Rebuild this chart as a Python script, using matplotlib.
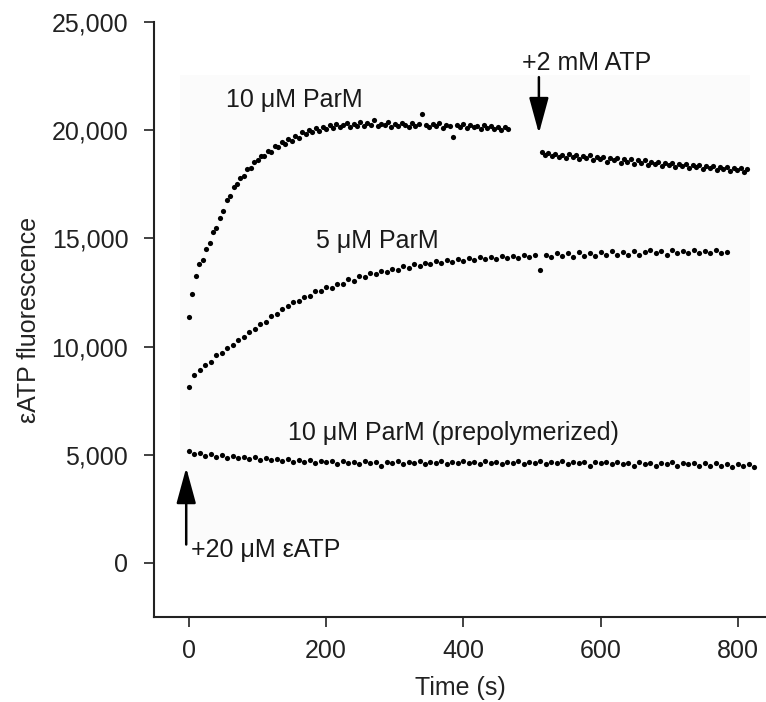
import numpy as np
import matplotlib
matplotlib.use("Agg")
import matplotlib.pyplot as plt
from matplotlib.patches import Rectangle

plt.rcParams["font.family"] = ["Liberation Sans", "DejaVu Sans"]

# ---- data (time in s, fluorescence in a.u.) ----
# 10 uM ParM, sampled every 5 s from t = 0
parm10_vals = [
    11350, 12450, 13250, 13800, 14000, 14500, 14800, 15300, 15500, 15950,
    16250, 16750, 16950, 17350, 17500, 17800, 17900, 18200, 18250, 18550,
    18600, 18800, 18800, 19050, 19000, 19250, 19200, 19450, 19350, 19600,
    19500, 19750, 19650, 19900, 19800, 20000, 19900, 20100, 19950, 20150,
    20050, 20250, 20100, 20300, 20150, 20250, 20350, 20150, 20300, 20200,
    20400, 20200, 20350, 20250, 20450, 20200, 20300, 20250, 20400, 20150,
    20300, 20200, 20350, 20250, 20150, 20350, 20200, 20300, 20750, 20250,
    20150, 20300, 20200, 20350, 20100, 20250, 20200, 19700, 20250, 20150,
    20300, 20100, 20250, 20150, 20200, 20050, 20250, 20100, 20200, 20050,
    20150, 20000, 20150, 20050,
]
parm10_t0, parm10_dt = 0, 5

# 10 uM ParM after +2 mM ATP, every 5 s from t = 514
atp_vals = [
    19000, 18850, 18950, 18800, 18900, 18750, 18850, 18700, 18900, 18750,
    18850, 18650, 18800, 18700, 18850, 18600, 18750, 18650, 18750, 18550,
    18700, 18600, 18700, 18500, 18650, 18550, 18650, 18450, 18600, 18500,
    18600, 18400, 18550, 18450, 18550, 18350, 18500, 18400, 18500, 18300,
    18450, 18350, 18450, 18250, 18400, 18300, 18400, 18200, 18350, 18250,
    18350, 18150, 18300, 18200, 18300, 18100, 18250, 18150, 18250, 18050,
    18200,
]
atp_t0, atp_dt = 514, 5

# 5 uM ParM, every 8 s from t = 0
parm5_vals = [
    8150, 8700, 8900, 9150, 9300, 9600, 9700, 9950, 10050, 10300,
    10450, 10650, 10800, 11050, 11150, 11400, 11500, 11750, 11850, 12050,
    12100, 12300, 12350, 12550, 12550, 12750, 12700, 12900, 12900, 13100,
    13050, 13250, 13200, 13400, 13350, 13500, 13450, 13600, 13550, 13700,
    13650, 13800, 13700, 13850, 13800, 13950, 13850, 14000, 13900, 14050,
    13950, 14100, 14000, 14150, 14050, 14150, 14050, 14200, 14100, 14200,
    14100, 14250, 14150, 14250, 13550, 14250, 14150, 14300, 14200, 14300,
    14150, 14350, 14200, 14300, 14200, 14350, 14250, 14400, 14250, 14350,
    14250, 14400, 14250, 14350, 14450, 14300, 14400, 14250, 14450, 14300,
    14400, 14300, 14450, 14300, 14400, 14300, 14450, 14300, 14350,
]
parm5_t0, parm5_dt = 0, 8

# 10 uM ParM (prepolymerized), every 8 s from t = 0
prepol_vals = [
    5150, 5050, 5100, 4950, 5050, 4900, 5000, 4850, 4950, 4850,
    4900, 4800, 4900, 4750, 4850, 4750, 4800, 4700, 4800, 4650,
    4750, 4650, 4750, 4600, 4700, 4650, 4700, 4550, 4700, 4600,
    4650, 4550, 4700, 4600, 4650, 4500, 4650, 4600, 4700, 4550,
    4650, 4600, 4700, 4550, 4650, 4600, 4700, 4550, 4650, 4600,
    4700, 4600, 4650, 4550, 4700, 4600, 4650, 4550, 4650, 4600,
    4700, 4550, 4650, 4600, 4700, 4550, 4650, 4600, 4700, 4550,
    4650, 4600, 4650, 4500, 4650, 4600, 4650, 4550, 4650, 4550,
    4600, 4500, 4650, 4550, 4600, 4500, 4600, 4550, 4650, 4500,
    4600, 4550, 4600, 4500, 4600, 4500, 4600, 4500, 4550, 4450,
    4550, 4500, 4550, 4450,
]
prepol_t0, prepol_dt = 0, 8

series = [
    (parm10_t0, parm10_dt, parm10_vals),
    (atp_t0, atp_dt, atp_vals),
    (parm5_t0, parm5_dt, parm5_vals),
    (prepol_t0, prepol_dt, prepol_vals),
]

x_ticks = [0, 200, 400, 600, 800]
y_ticks = [0, 5000, 10000, 15000, 20000, 25000]

# ---- figure ----
fig = plt.figure(figsize=(7.66, 7.02), dpi=100)
ax = fig.add_axes([0.201, 0.1211, 0.799, 0.8476])

# faint grey panel behind the traces (scan artefact in the original)
ax.add_patch(Rectangle((-13, 1050), 831, 21500, facecolor="#fbfbfb",
                       edgecolor="none", zorder=0))

for t0, dt, vals in series:
    t = t0 + dt * np.arange(len(vals))
    ax.scatter(t, vals, s=14, color="black", linewidths=0, zorder=3)

text_kw = dict(fontsize=18, color="#1a1a1a")
ax.text(154, 21400, "10 \u03bcM ParM", ha="center", va="center", **text_kw)
ax.text(275, 14900, "5 \u03bcM ParM", ha="center", va="center", **text_kw)
ax.text(144, 6000, "10 \u03bcM ParM (prepolymerized)", ha="left", va="center", **text_kw)
ax.text(485, 23100, "+2 mM ATP", ha="left", va="center", **text_kw)
ax.text(3, 600, "+20 \u03bcM \u03b5ATP", ha="left", va="center", **text_kw)

arrow_kw = dict(arrowstyle="-|>,head_length=1.1,head_width=0.3",
                color="black", lw=1.8, mutation_scale=20, shrinkA=0, shrinkB=0)
ax.annotate("", xy=(510, 19850), xytext=(510, 22450), arrowprops=arrow_kw)
ax.annotate("", xy=(-4, 4400), xytext=(-4, 850), arrowprops=arrow_kw)

ax.set_xlim(-51, 841)
ax.set_ylim(-2500, 25000)
ax.set_xticks(x_ticks)
ax.set_yticks(y_ticks)
ax.set_yticklabels([f"{v:,}" for v in y_ticks])

for side in ("top", "right"):
    ax.spines[side].set_visible(False)
for side in ("left", "bottom"):
    ax.spines[side].set_linewidth(1.5)
    ax.spines[side].set_color("#222222")
ax.tick_params(length=7.5, width=1.3, color="#333333", labelsize=18,
               labelcolor="#222222")
ax.tick_params(axis="x", pad=8)
ax.tick_params(axis="y", pad=11)

ax.set_xlabel("Time (s)", fontsize=18, color="#222222", labelpad=10)
ax.set_ylabel("\u03b5ATP fluorescence", fontsize=18, color="#222222")
ax.yaxis.set_label_coords(-0.184, 0.5)

fig.savefig("out.png", dpi=100)
